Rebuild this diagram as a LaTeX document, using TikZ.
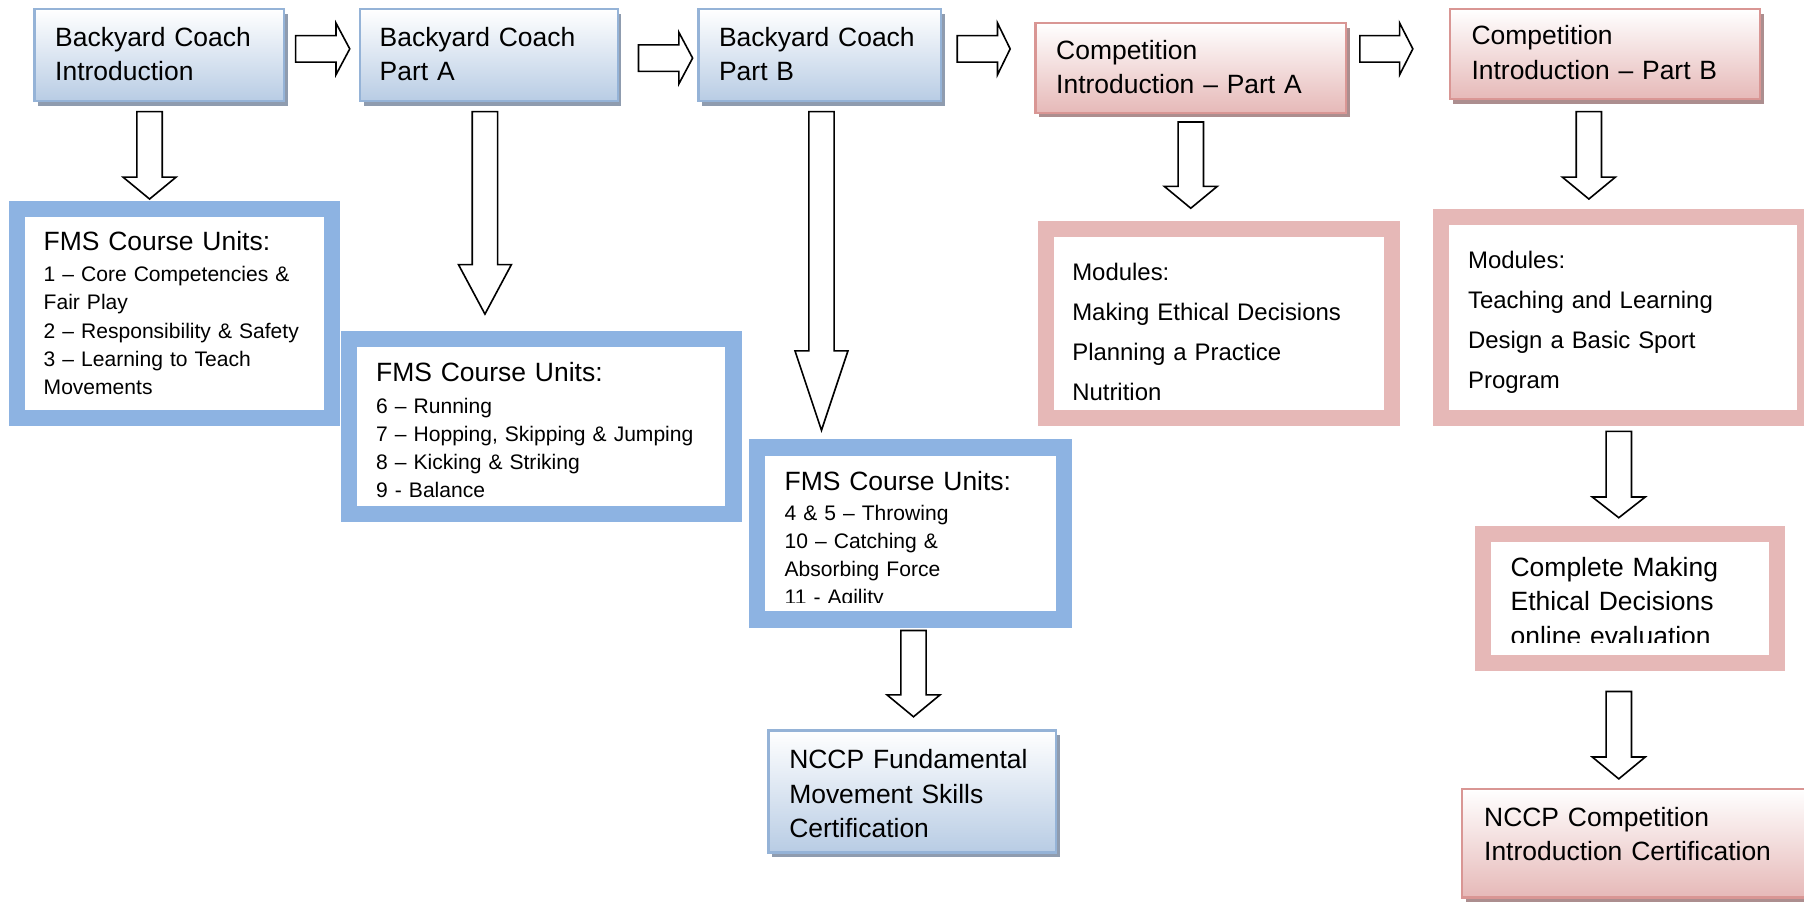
\documentclass[tikz,border=0pt]{standalone}
\usepackage{fontspec}
\setmainfont{Liberation Sans}
\usetikzlibrary{fit,shadows}
\definecolor{bborder}{HTML}{95B3D7}
\definecolor{bbot}{HTML}{B8CCE4}
\definecolor{bshadow}{HTML}{8F9CAF}
\definecolor{bthick}{HTML}{8DB3E2}
\definecolor{pborder}{HTML}{D99694}
\definecolor{pbot}{HTML}{E6B9B8}
\definecolor{pshadow}{HTML}{AC8E8F}
\definecolor{pthick}{HTML}{E6B8B7}
\tikzset{
  bluebox/.style={draw=bborder, line width=1pt, inner sep=0pt, top color=white, bottom color=bbot,
    drop shadow={shadow xshift=1.5pt,shadow yshift=-2pt,fill=bshadow,opacity=1}},
  pinkbox/.style={draw=pborder, line width=1pt, inner sep=0pt, top color=white, bottom color=pbot,
    drop shadow={shadow xshift=1.5pt,shadow yshift=-2pt,fill=pshadow,opacity=1}},
  bluethick/.style={draw=bthick, line width=7pt, fill=white, inner sep=0pt},
  pinkthick/.style={draw=pthick, line width=7pt, fill=white, inner sep=0pt},
  txt/.style={anchor=base west, inner sep=0pt, outer sep=0pt, text width=170pt, align=left},
  headfont/.style={font=\fontsize{11.5}{15}\selectfont},
  listfont/.style={font=\fontsize{9.15}{12.2}\selectfont},
  modfont/.style={font=\fontsize{10.4}{17.35}\selectfont},
  blk/.style={draw=black, fill=white, line width=0.7pt, line join=miter}
}
\newcommand\blkdown[4]{\draw[blk] ({#1-11},#2) -- ({#1+11},#2) -- ({#1+11},#3) -- ({#1+23},#3) -- (#1,#4) -- ({#1-23},#3) -- ({#1-11},#3) -- cycle;}
\newcommand\blkright[4]{\draw[blk] (#1,{#4-11.5}) -- (#2,{#4-11.5}) -- (#2,{#4-22.5}) -- (#3,#4) -- (#2,{#4+22.5}) -- (#2,{#4+11.5}) -- (#1,{#4+11.5}) -- cycle;}
\begin{document}
\begin{tikzpicture}[x=0.5pt,y=-0.5pt]
\useasboundingbox (0,0) rectangle (1568,785);
\fill[white] (0,0) rectangle (1568,785);

% top row boxes
\node[bluebox, fit={(30,8)(247,88)}] (t1) {};
\node[bluebox, fit={(313,8)(537,88)}] (t2) {};
\node[bluebox, fit={(607,8)(818,88)}] (t3) {};
\node[pinkbox, fit={(900,20)(1170,98)}] (t4) {};
\node[pinkbox, fit={(1260,8)(1530,86)}] (t5) {};

\node[txt, headfont] (t1txt) at (48,40) {Backyard Coach\\Introduction};
\node[txt, headfont] (t2txt) at (330,40) {Backyard Coach\\Part A};
\node[txt, headfont] (t3txt) at (625,40) {Backyard Coach\\Part B};
\node[txt, headfont] (t4txt) at (918,51.5) {Competition\\Introduction – Part A};
\node[txt, headfont] (t5txt) at (1279,39) {Competition\\Introduction – Part B};

% right arrows
\blkright{257}{292}{304}{42.5}
\blkright{555}{590}{602}{50.5}
\blkright{832}{867}{878}{42.5}
\blkright{1182}{1216.5}{1228}{42.5}

% thick boxes
\node[bluethick, fit={(15,181.5)(288.5,363)}] (b1) {};
\node[bluethick, fit={(303,295)(637.5,447)}] (b2) {};
\node[bluethick, fit={(658,389)(925,538.5)}] (b3) {};
\node[pinkthick, fit={(909.5,199)(1210,363)}] (b4) {};
\node[pinkthick, fit={(1252.5,189)(1569,363)}] (b5) {};
\node[pinkthick, fit={(1289,464.5)(1544.5,576)}] (b6) {};

\node[txt, headfont] (b1h) at (38,218) {FMS Course Units:};
\node[txt, listfont] (b1l) at (38,245) {1 – Core Competencies \&\\Fair Play\\2 – Responsibility \& Safety\\3 – Learning to Teach\\Movements};

\node[txt, headfont] (b2h) at (327,332) {FMS Course Units:};
\node[txt, listfont] (b2l) at (327,359) {6 – Running\\7 – Hopping, Skipping \& Jumping\\8 – Kicking \& Striking\\9 - Balance};

\node[txt, headfont] (b3h) at (682,426) {FMS Course Units:};
\begin{scope}
\clip (660,430) rectangle (925,523.5);
\node[txt, listfont] (b3l) at (682,452.5) {4 \& 5 – Throwing\\10 – Catching \&\\Absorbing Force\\11 - Agility};
\end{scope}

\node[txt, modfont] (b4l) at (932,244) {Modules:\\Making Ethical Decisions\\Planning a Practice\\Nutrition};
\node[txt, modfont] (b5l) at (1276,233.5) {Modules:\\Teaching and Learning\\Design a Basic Sport\\Program};

\begin{scope}
\clip (1290,470) rectangle (1540,558.5);
\node[txt, headfont] (b6l) at (1313,501) {Complete Making\\Ethical Decisions\\online evaluation};
\end{scope}

% bottom boxes
\node[bluebox, fit={(668,635)(918,741)}] (nf) {};
\node[txt, headfont] (nftxt) at (686,668) {NCCP Fundamental\\Movement Skills\\Certification};
\node[pinkbox, fit={(1271,686)(1580,780)}] (nc) {};
\node[txt, headfont] (nctxt) at (1290,718) {NCCP Competition\\Introduction Certification};

% down arrows
\blkdown{130}{97}{154}{173}
\blkdown{421.5}{97}{230}{273}
\blkdown{714}{97}{305}{374}
\blkdown{1035}{106}{162}{181}
\blkdown{1381}{97}{154}{173}
\blkdown{1407}{375}{432}{450}
\blkdown{1407}{601}{658}{677}
\blkdown{794}{548}{604}{623}
\end{tikzpicture}
\end{document}
